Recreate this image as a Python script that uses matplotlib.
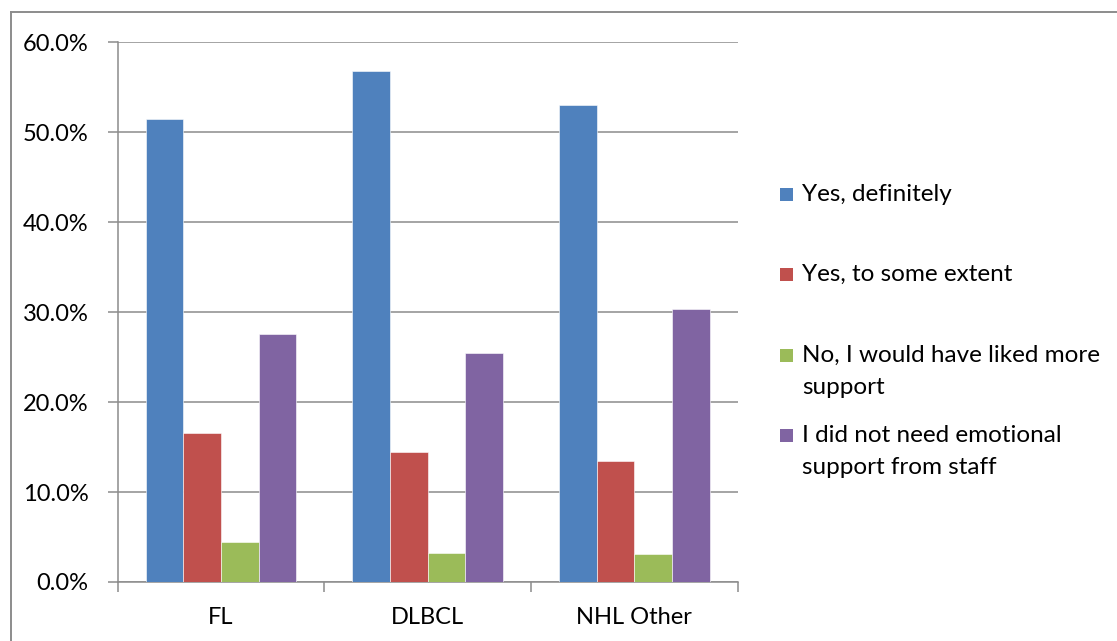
import matplotlib
matplotlib.use("Agg")
import matplotlib.pyplot as plt
from matplotlib.patches import Rectangle
from matplotlib.lines import Line2D
import numpy as np

categories = ["FL", "DLBCL", "NHL Other"]
series_names = [
    "Yes, definitely",
    "Yes, to some extent",
    "No, I would have liked more\nsupport",
    "I did not need emotional\nsupport from staff",
]
yes_definitely = [51.4, 56.8, 53.0]
yes_some_extent = [16.6, 14.4, 13.5]
no_more_support = [4.4, 3.2, 3.1]
no_need = [27.6, 25.5, 30.3]
colors = ["#4F81BD", "#C0504D", "#9BBB59", "#8064A2"]
yticks = [0, 10, 20, 30, 40, 50, 60]

series = [yes_definitely, yes_some_extent, no_more_support, no_need]

plt.rcParams['font.family'] = ['Lato', 'DejaVu Sans']
W, H = 1117, 641
fig = plt.figure(figsize=(W / 100, H / 100), dpi=100)
ax = fig.add_axes([117.6 / W, 1 - 582 / H, (737.7 - 117.6) / W, 540 / H])

x = np.arange(len(categories))
bw = 0.182
for i, (vals, c) in enumerate(zip(series, colors)):
    ax.bar(x + (i - 1.5) * bw, vals, width=bw, color=c, edgecolor='white',
           linewidth=0.4, zorder=3)

ax.set_xlim(-0.5, len(categories) - 0.5)
ax.set_ylim(0, 60)
ax.set_yticks(yticks)
ax.set_yticklabels([f"{v:.1f}%" for v in yticks])
ax.yaxis.grid(True, color='#8C8C8C', linewidth=1.1, zorder=0)
ax.set_axisbelow(True)

ax.set_xticks(np.arange(len(categories) + 1) - 0.5)
ax.set_xticklabels([])
ax.set_xticks(x, minor=True)
ax.set_xticklabels(categories, minor=True)
ax.tick_params(axis='x', which='minor', length=0, pad=18, labelsize=17, colors='black')
ax.tick_params(axis='x', which='major', length=7, width=1.1, color='#8C8C8C', direction='out')
ax.tick_params(axis='y', length=7, width=1.1, color='#8C8C8C', direction='out',
               pad=14, labelsize=17, labelcolor='black')

for s in ['top', 'right']:
    ax.spines[s].set_visible(False)
for s in ['left', 'bottom']:
    ax.spines[s].set_color('#8C8C8C')
    ax.spines[s].set_linewidth(1.1)

# Legend (Excel style: equal slots, marker aligned with first line)
leg_x = 780 / W
text_x = 802 / W
line_tops = [194, 274, 355, 435]
for name, c, yc in zip(series_names, colors, line_tops):
    fig.add_artist(Rectangle((leg_x, 1 - (yc + 7) / H), 13 / W, 13 / H,
                             transform=fig.transFigure, facecolor=c,
                             edgecolor='none'))
    fig.text(text_x, 1 - (yc - 10) / H, name, ha='left', va='top',
             fontsize=17.5, linespacing=1.62, color='black')

# chart border (left and top)
fig.add_artist(Line2D([10.5 / W, 10.5 / W], [0, 1 - 11.5 / H], transform=fig.transFigure,
                      color='#8C8C8C', linewidth=1.4))
fig.add_artist(Line2D([10.5 / W, 1], [1 - 11.5 / H, 1 - 11.5 / H], transform=fig.transFigure,
                      color='#8C8C8C', linewidth=1.4))

fig.savefig("out.png", dpi=100)
